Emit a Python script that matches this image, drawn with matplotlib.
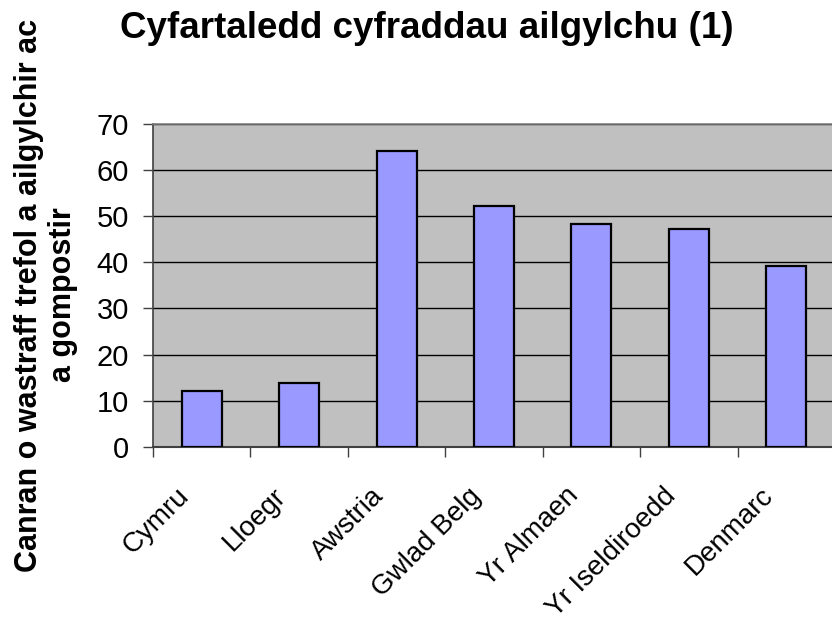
import matplotlib
matplotlib.use("Agg")
import matplotlib.pyplot as plt
import matplotlib.transforms as mtransforms
import numpy as np

categories = ["Cymru", "Lloegr", "Awstria", "Gwlad Belg", "Yr Almaen", "Yr Iseldiroedd", "Denmarc"]
values = [12.2, 13.8, 64, 52.2, 48.2, 47.2, 39.2]
yticks = [0, 10, 20, 30, 40, 50, 60, 70]

plt.rcParams['font.family'] = ['Liberation Sans', 'DejaVu Sans']

fig = plt.figure(figsize=(8.32, 6.24), dpi=100)
ax = fig.add_axes([153/832, 1-447/624, 682/832, (447-123.5)/624])
ax.set_facecolor('#C0C0C0')

x = np.arange(len(categories))
ax.bar(x, values, width=0.41, color='#9999FF', edgecolor='black', linewidth=1.6, zorder=3)

ax.set_xlim(-0.5, len(categories) - 0.5)
ax.set_ylim(0, 70)
ax.set_yticks(yticks)
ax.set_yticklabels([str(t) for t in yticks], fontsize=21)
ax.yaxis.grid(True, color='black', linewidth=1, zorder=1)
ax.set_axisbelow(True)

ax.set_xticks(x)
ax.set_xticklabels(categories, rotation=45, ha='right', va='center', rotation_mode='anchor', fontsize=20)
ax.tick_params(axis='x', which='major', length=0, pad=0)
offset = mtransforms.ScaledTranslation(-17/100, -45/100, fig.dpi_scale_trans)
for lbl in ax.get_xticklabels():
    lbl.set_transform(lbl.get_transform() + offset)
ax.set_xticks(np.arange(len(categories)) - 0.5, minor=True)
ax.tick_params(axis='x', which='minor', length=7, width=1, color='#404040', direction='out')
ax.tick_params(axis='y', length=7.2, width=1, color='#404040', direction='out', pad=10)

for s in ['top', 'right']:
    ax.spines[s].set_visible(True)
    ax.spines[s].set_color('#808080')
    ax.spines[s].set_linewidth(1.2)
ax.spines['left'].set_color('#404040')
ax.spines['bottom'].set_color('#404040')
ax.spines['left'].set_linewidth(1.2)
ax.spines['bottom'].set_linewidth(1.5)

fig.text(120/832, 1-29/624, "Cyfartaledd cyfraddau ailgylchu (1)", fontsize=26.5, fontweight='bold',
         ha='left', va='center')
fig.text(46/832, 1-295/624, "Canran o wastraff trefol a ailgylchir ac\na gompostir", fontsize=22,
         fontweight='bold', rotation=90, ha='center', va='center', multialignment='center',
         linespacing=1.2)

fig.savefig("out.png", dpi=100)
